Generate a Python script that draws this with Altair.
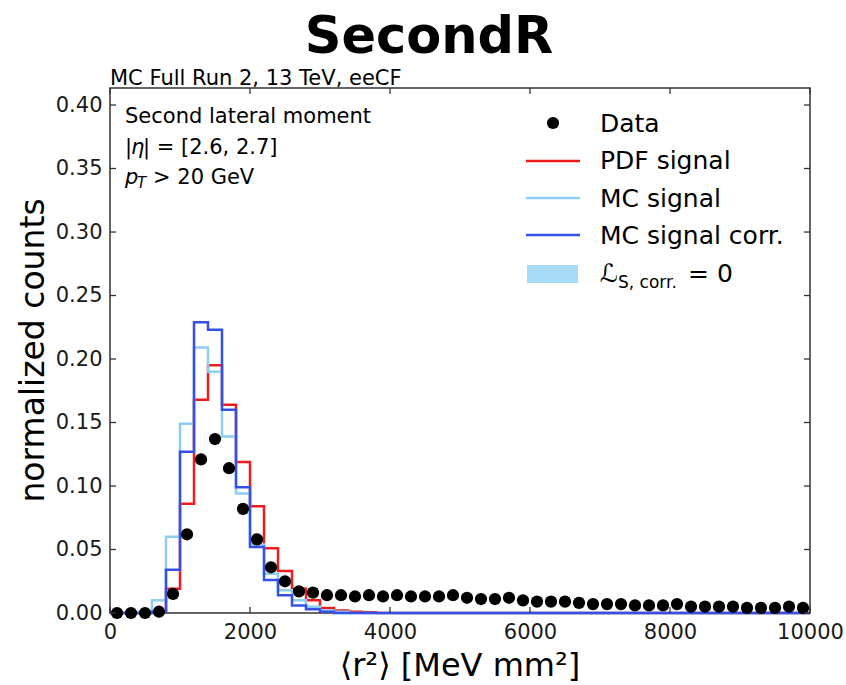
import altair as alt
import pandas as pd

# --- histogram binning (50 bins of 200 MeV mm^2) ---
bin_edges = list(range(0, 10001, 200))
bin_centers = [e + 100 for e in bin_edges[:-1]]

# --- normalized counts per bin ---
data_counts = [
    0.0, 0.0, 0.0, 0.001, 0.015, 0.062, 0.121, 0.137, 0.114, 0.082,
    0.058, 0.036, 0.025, 0.017, 0.016, 0.014, 0.014, 0.013, 0.014, 0.013,
    0.014, 0.013, 0.013, 0.013, 0.014, 0.012, 0.011, 0.011, 0.012, 0.010,
    0.009, 0.009, 0.009, 0.008, 0.007, 0.007, 0.007, 0.006, 0.006, 0.006,
    0.007, 0.005, 0.005, 0.005, 0.005, 0.004, 0.004, 0.004, 0.005, 0.004,
]
pdf_signal = [
    0.0, 0.0, 0.0, 0.001, 0.019, 0.086, 0.168, 0.195, 0.164, 0.119,
    0.084, 0.051, 0.033, 0.019, 0.010, 0.004, 0.002, 0.001, 0.0005, 0.0,
] + [0.0] * 30
mc_signal = [
    0.0, 0.0, 0.001, 0.010, 0.060, 0.149, 0.209, 0.190, 0.139, 0.094,
    0.054, 0.031, 0.018, 0.010, 0.005, 0.002, 0.001, 0.0, 0.0, 0.0,
] + [0.0] * 30
mc_signal_corr = [
    0.0, 0.0, 0.0, 0.001, 0.034, 0.127, 0.229, 0.223, 0.160, 0.099,
    0.052, 0.026, 0.014, 0.006, 0.003, 0.001, 0.0, 0.0, 0.0, 0.0,
] + [0.0] * 30

series_names = ["PDF signal", "MC signal", "MC signal corr."]
series_colors = ["#ee1c1c", "#8ccdf2", "#3550e6"]

x_ticks = [0, 2000, 4000, 6000, 8000, 10000]
y_ticks = [0.0, 0.05, 0.10, 0.15, 0.20, 0.25, 0.30, 0.35, 0.40]

W, H = 700, 525
FONT = "DejaVu Sans"

x_scale = alt.Scale(domain=[0, 10000], nice=False, zero=False)
y_scale = alt.Scale(domain=[0, 0.4134], nice=False, zero=False)
x_axis = alt.Axis(values=x_ticks, format="d", title=None, ticks=False,
                  labelPadding=8, domain=False, grid=False, labelFlush=False)
y_axis = alt.Axis(values=y_ticks, format=".2f", title=None, ticks=False,
                  labelPadding=8, domain=False, grid=False, labelFlush=False)


def step_table(values, name):
    return pd.DataFrame({
        "edge": bin_edges,
        "value": list(values) + [values[-1]],
        "series": name,
    })


steps = pd.concat([
    step_table(pdf_signal, series_names[0]),
    step_table(mc_signal, series_names[1]),
    step_table(mc_signal_corr, series_names[2]),
])
points = pd.DataFrame({"center": bin_centers, "value": data_counts})

step_layers = [
    alt.Chart(steps[steps["series"] == name])
    .mark_line(interpolate="step-after", strokeWidth=2.5, color=col)
    .encode(
        x=alt.X("edge:Q", scale=x_scale, axis=x_axis),
        y=alt.Y("value:Q", scale=y_scale, axis=y_axis),
    )
    for name, col in zip(series_names, series_colors)
]

data_layer = alt.Chart(points).mark_point(
    filled=True, size=150, color="black", opacity=1
).encode(
    x=alt.X("center:Q", scale=x_scale, axis=x_axis),
    y=alt.Y("value:Q", scale=y_scale, axis=y_axis),
)

# inward-pointing ticks on all four sides
xt = pd.DataFrame({"t": x_ticks})
yt = pd.DataFrame({"t": y_ticks})
tick_style = dict(color="#333333", strokeWidth=1.3)
x_ticks_bottom = alt.Chart(xt).mark_rule(**tick_style).encode(
    x=alt.X("t:Q", scale=x_scale, axis=x_axis), y=alt.value(H), y2=alt.value(H - 6))
x_ticks_top = alt.Chart(xt).mark_rule(**tick_style).encode(
    x=alt.X("t:Q", scale=x_scale, axis=x_axis), y=alt.value(0), y2=alt.value(6))
y_ticks_left = alt.Chart(yt).mark_rule(**tick_style).encode(
    y=alt.Y("t:Q", scale=y_scale, axis=y_axis), x=alt.value(0), x2=alt.value(6))
y_ticks_right = alt.Chart(yt).mark_rule(**tick_style).encode(
    y=alt.Y("t:Q", scale=y_scale, axis=y_axis), x=alt.value(W), x2=alt.value(W - 6))

one = pd.DataFrame({"k": [0]})


def label(text, x, y, size=21, align="left", weight="normal", style="normal",
          angle=0, baseline="alphabetic", color="black"):
    return alt.Chart(one).mark_text(
        text=text, font=FONT, fontSize=size, align=align, baseline=baseline,
        fontWeight=weight, fontStyle=style, angle=angle, color=color,
    ).encode(x=alt.value(x), y=alt.value(y))


texts = [
    # title and header
    label("SecondR", 319, -35, size=51, align="center", weight="bold"),
    label("MC Full Run 2, 13 TeV, eeCF", 0, -3, size=21),
    # selection annotations
    label("Second lateral moment", 15, 35),
    label("|", 15, 66),
    label("η", 21, 66, style="italic"),
    label("| = [2.6, 2.7]", 33, 66),
    label("p", 15, 96, style="italic"),
    label("T", 27, 100, size=15, style="italic"),
    label("> 20 GeV", 43, 96),
    # axis titles
    label("⟨r²⟩ [MeV mm²]", W / 2, 588, size=32, align="center"),
    label("normalized counts", -66, H / 2, size=33, align="center", angle=270),
    # legend labels
    label("Data", 490, 44, size=25),
    label("PDF signal", 490, 81, size=25),
    label("MC signal", 490, 119, size=25),
    label("MC signal corr.", 490, 156, size=25),
    label("ℒ", 490, 194, size=25),
    label("S, corr.", 508, 200, size=17),
    label("= 0", 578, 194, size=25),
]

legend_marks = [
    alt.Chart(one).mark_point(filled=True, size=150, color="black", opacity=1)
    .encode(x=alt.value(443), y=alt.value(35)),
]
for yy, col in zip([73, 110, 147], series_colors):
    legend_marks.append(
        alt.Chart(one).mark_rule(color=col, strokeWidth=2.5)
        .encode(x=alt.value(416), x2=alt.value(470), y=alt.value(yy))
    )
legend_marks.append(
    alt.Chart(one).mark_rect(color="#a6daf5")
    .encode(x=alt.value(417), x2=alt.value(468), y=alt.value(177), y2=alt.value(195))
)

chart = alt.layer(
    *step_layers, data_layer,
    x_ticks_bottom, x_ticks_top, y_ticks_left, y_ticks_right,
    *legend_marks, *texts,
).properties(
    width=W, height=H,
    autosize=alt.AutoSizeParams(type="none"),
    padding={"left": 110, "top": 88, "right": 36, "bottom": 72},
    background="white",
).configure_view(
    stroke="#333333", strokeWidth=1.5
).configure_axis(
    labelFont=FONT, labelFontSize=21, labelColor="#1a1a1a",
)

chart.save("out.html", embed_options={"renderer": "svg", "actions": False})
